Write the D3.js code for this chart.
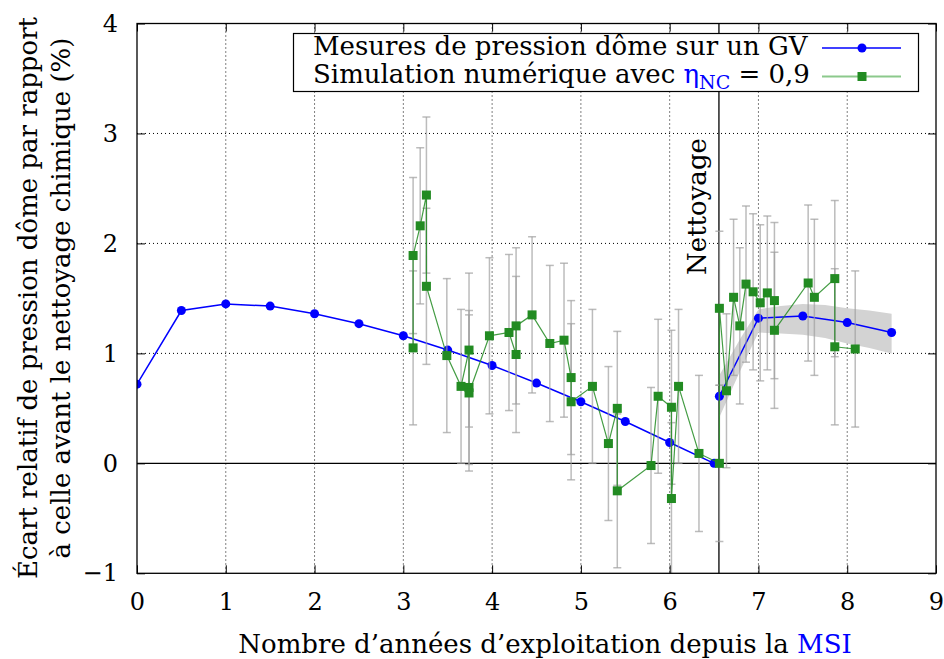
<!DOCTYPE html>
<html>
<head>
<meta charset="utf-8">
<script src="https://cdn.jsdelivr.net/npm/d3@7"></script>
<style>
    body { margin: 0; background: #fff; }
    svg text { font-family: "DejaVu Serif", serif; }
</style>
</head>
<body>
<div class="chart"></div>
<script>

// Mesures de pression dôme sur un GV
var mesureYears  = [0, 0.5, 1, 1.5, 2, 2.5, 3, 3.5, 4, 4.5, 5, 5.5, 6, 6.5, 6.56, 7, 7.5, 8, 8.5];
var mesureValues = [0.72, 1.39, 1.45, 1.43, 1.36, 1.27, 1.16, 1.03, 0.89, 0.73, 0.56, 0.38, 0.19, 0.00, 0.61, 1.32, 1.34, 1.28, 1.19];

// Simulation numérique (eta_NC = 0,9), dans l'ordre du tracé
var simYears  = [3.11, 3.11, 3.19, 3.26, 3.26, 3.49, 3.65, 3.74, 3.74, 3.74, 3.97, 4.19, 4.27, 4.27, 4.45,
                 4.65, 4.81, 4.89, 4.89, 5.13, 5.31, 5.41, 5.41, 5.79, 5.87, 6.02, 6.02, 6.10, 6.33, 6.56,
                 6.56, 6.64, 6.72, 6.79, 6.86, 6.94, 7.02, 7.10, 7.18, 7.18, 7.56, 7.63, 7.86, 7.86, 8.09];
var simValues = [1.05, 1.89, 2.16, 2.44, 1.61, 0.98, 0.70, 1.03, 0.69, 0.64, 1.16, 1.19, 0.99, 1.25, 1.35,
                 1.09, 1.12, 0.78, 0.56, 0.70, 0.18, 0.50, -0.25, -0.02, 0.61, 0.51, -0.32, 0.70, 0.09, 0.00,
                 1.41, 0.66, 1.51, 1.25, 1.63, 1.56, 1.46, 1.55, 1.48, 1.21, 1.64, 1.51, 1.68, 1.06, 1.04];
var simErrors = [0.70, 0.71, 0.71, 0.71, 0.71, 0.70, 0.70, 0.70, 0.70, 0.71, 0.71, 0.71, 0.71, 0.71, 0.71,
                 0.71, 0.70, 0.70, 0.71, 0.70, 0.70, 0.70, 0.70, 0.71, 0.70, 0.70, 0.69, 0.70, 0.71, 0.71,
                 0.70, 0.70, 0.71, 0.71, 0.71, 0.71, 0.71, 0.70, 0.71, 0.71, 0.71, 0.71, 0.71, 0.71, 0.71];

// Bande grise autour des mesures après nettoyage
var bandYears = [6.56, 6.8, 7.0, 7.25, 7.5, 7.75, 8.0, 8.25, 8.5];
var bandLow   = [0.42, 0.85, 1.19, 1.18, 1.17, 1.14, 1.09, 1.05, 1.00];
var bandHigh  = [0.80, 1.14, 1.40, 1.43, 1.45, 1.44, 1.41, 1.39, 1.36];

var cleaningYear = 6.555;
var xTicks = [0, 1, 2, 3, 4, 5, 6, 7, 8, 9];
var yTicks = [-1, 0, 1, 2, 3, 4];


/*
 * PressureChart - Object constructor function
 */
PressureChart = function(_parentElement){
    this.parentElement = _parentElement;

    this.mesures = mesureYears.map(function(d, i) { return { x: d, y: mesureValues[i] }; });
    this.sim = simYears.map(function(d, i) { return { x: d, y: simValues[i], e: simErrors[i] }; });
    this.band = bandYears.map(function(d, i) { return { x: d, lo: bandLow[i], hi: bandHigh[i] }; });

    this.initVis();
}


PressureChart.prototype.initVis = function(){
    var vis = this;

    vis.margin = { top: 23.5, right: 8, bottom: 85.7, left: 137 };
    vis.width = 944 - vis.margin.left - vis.margin.right;
    vis.height = 659 - vis.margin.top - vis.margin.bottom;

    vis.root = d3.select("." + vis.parentElement).append("svg")
        .attr("width", 944)
        .attr("height", 659);

    vis.svg = vis.root.append("g")
        .attr("transform", "translate(" + vis.margin.left + "," + vis.margin.top + ")");

    vis.x = d3.scaleLinear().domain([0, 9]).range([0, vis.width]);
    vis.y = d3.scaleLinear().domain([-1, 4]).range([vis.height, 0]);

    vis.svg.append("clipPath").attr("id", "plot-clip")
        .append("rect")
        .attr("width", vis.width)
        .attr("height", vis.height);

    vis.updateVis();
}


PressureChart.prototype.updateVis = function(){
    var vis = this;
    var fontSize = 26;
    var tickFont = 24;

    // grid (dotted)
    vis.svg.append("g").selectAll("line")
        .data(xTicks.slice(1, -1))
        .enter().append("line")
        .attr("x1", function(d) { return vis.x(d); })
        .attr("x2", function(d) { return vis.x(d); })
        .attr("y1", 0)
        .attr("y2", vis.height)
        .attr("stroke", "#000")
        .attr("stroke-width", 1)
        .attr("stroke-dasharray", "1,3");

    vis.svg.append("g").selectAll("line")
        .data([1, 2, 3])
        .enter().append("line")
        .attr("x1", 0)
        .attr("x2", vis.width)
        .attr("y1", function(d) { return vis.y(d); })
        .attr("y2", function(d) { return vis.y(d); })
        .attr("stroke", "#000")
        .attr("stroke-width", 1)
        .attr("stroke-dasharray", "1,3");

    // zero line
    vis.svg.append("line")
        .attr("x1", 0).attr("x2", vis.width)
        .attr("y1", vis.y(0)).attr("y2", vis.y(0))
        .attr("stroke", "#000")
        .attr("stroke-width", 1.3);

    // cleaning line
    vis.svg.append("line")
        .attr("x1", vis.x(cleaningYear)).attr("x2", vis.x(cleaningYear))
        .attr("y1", 0).attr("y2", vis.height)
        .attr("stroke", "#000")
        .attr("stroke-width", 1.3);

    vis.svg.append("text")
        .attr("transform", "translate(" + (vis.x(cleaningYear) - 13) + "," + (275 - vis.margin.top) + ") rotate(-90)")
        .attr("font-size", fontSize)
        .attr("fill", "#000")
        .text("Nettoyage");

    var plot = vis.svg.append("g").attr("clip-path", "url(#plot-clip)");

    // band
    var area = d3.area()
        .x(function(d) { return vis.x(d.x); })
        .y0(function(d) { return vis.y(d.lo); })
        .y1(function(d) { return vis.y(d.hi); });

    plot.append("path")
        .datum(vis.band)
        .attr("d", area)
        .attr("fill", "#d3d3d3");

    // measurements, split at the cleaning date
    var line = d3.line()
        .x(function(d) { return vis.x(d.x); })
        .y(function(d) { return vis.y(d.y); });

    var before = vis.mesures.filter(function(d) { return d.x < cleaningYear; });
    var after = vis.mesures.filter(function(d) { return d.x >= cleaningYear; });

    plot.selectAll(".mesure-line")
        .data([before, after])
        .enter().append("path")
        .attr("class", "mesure-line")
        .attr("d", line)
        .attr("fill", "none")
        .attr("stroke", "#0000ff")
        .attr("stroke-width", 1.5);

    plot.selectAll(".mesure-dot")
        .data(vis.mesures)
        .enter().append("circle")
        .attr("class", "mesure-dot")
        .attr("cx", function(d) { return vis.x(d.x); })
        .attr("cy", function(d) { return vis.y(d.y); })
        .attr("r", 4.5)
        .attr("fill", "#0000ff");

    // error bars
    var bars = plot.selectAll(".err")
        .data(vis.sim)
        .enter().append("g")
        .attr("class", "err")
        .attr("stroke", "#a0a0a0")
        .attr("stroke-opacity", 0.7)
        .attr("stroke-width", 1.5);

    bars.append("line")
        .attr("x1", function(d) { return vis.x(d.x); })
        .attr("x2", function(d) { return vis.x(d.x); })
        .attr("y1", function(d) { return vis.y(d.y - d.e); })
        .attr("y2", function(d) { return vis.y(d.y + d.e); });

    bars.selectAll(".cap")
        .data(function(d) { return [{ x: d.x, y: d.y - d.e }, { x: d.x, y: d.y + d.e }]; })
        .enter().append("line")
        .attr("x1", function(d) { return vis.x(d.x) - 4; })
        .attr("x2", function(d) { return vis.x(d.x) + 4; })
        .attr("y1", function(d) { return vis.y(d.y); })
        .attr("y2", function(d) { return vis.y(d.y); });

    // simulation
    plot.append("path")
        .datum(vis.sim)
        .attr("d", line)
        .attr("fill", "none")
        .attr("stroke", "#228b22")
        .attr("stroke-opacity", 0.85)
        .attr("stroke-width", 1.2);

    plot.selectAll(".sim-dot")
        .data(vis.sim)
        .enter().append("rect")
        .attr("class", "sim-dot")
        .attr("x", function(d) { return vis.x(d.x) - 4.5; })
        .attr("y", function(d) { return vis.y(d.y) - 4.5; })
        .attr("width", 9)
        .attr("height", 9)
        .attr("fill", "#228b22");

    // axes (ticks inward on all four sides)
    vis.xAxis = d3.axisBottom(vis.x).tickValues(xTicks).tickSize(-8).tickSizeOuter(0)
        .tickPadding(20).tickFormat(d3.format("d"));
    vis.yAxis = d3.axisLeft(vis.y).tickValues(yTicks).tickSize(-8).tickSizeOuter(0)
        .tickPadding(19).tickFormat(d3.format("d"));

    var xg = vis.svg.append("g")
        .attr("transform", "translate(0," + vis.height + ")")
        .call(vis.xAxis);
    var yg = vis.svg.append("g").call(vis.yAxis);

    vis.svg.append("g")
        .call(d3.axisTop(vis.x).tickValues(xTicks).tickSize(-8).tickSizeOuter(0).tickFormat(""));
    vis.svg.append("g")
        .attr("transform", "translate(" + vis.width + ",0)")
        .call(d3.axisRight(vis.y).tickValues(yTicks).tickSize(-8).tickSizeOuter(0).tickFormat(""));

    vis.svg.selectAll(".domain").remove();
    vis.svg.selectAll(".tick line").attr("stroke", "#000");
    [xg, yg].forEach(function(g) {
        g.attr("font-family", null).attr("font-size", tickFont);
        g.selectAll("text").attr("fill", "#000");
    });

    vis.svg.append("rect")
        .attr("width", vis.width)
        .attr("height", vis.height)
        .attr("fill", "none")
        .attr("stroke", "#000")
        .attr("stroke-width", 1.3);

    // legend
    var lg = vis.root.append("g");
    lg.append("rect")
        .attr("x", 293.5).attr("y", 33.5)
        .attr("width", 625).attr("height", 58)
        .attr("fill", "#fff")
        .attr("stroke", "#000")
        .attr("stroke-width", 1.2);

    lg.append("text")
        .attr("x", 313).attr("y", 55)
        .attr("font-size", fontSize)
        .text("Mesures de pression dôme sur un GV");

    var t2 = lg.append("text")
        .attr("x", 313).attr("y", 83)
        .attr("font-size", fontSize);
    t2.append("tspan").text("Simulation numérique avec ");
    t2.append("tspan").attr("fill", "#0000ff").text("η");
    t2.append("tspan").attr("fill", "#0000ff").attr("font-size", 19).attr("dy", 6).text("NC");
    t2.append("tspan").attr("dy", -6).text(" = 0,9");

    lg.append("line")
        .attr("x1", 822).attr("x2", 901).attr("y1", 48).attr("y2", 48)
        .attr("stroke", "#0000ff").attr("stroke-width", 1.5);
    lg.append("circle")
        .attr("cx", 862).attr("cy", 48).attr("r", 4.5)
        .attr("fill", "#0000ff");

    lg.append("line")
        .attr("x1", 822).attr("x2", 901).attr("y1", 76.5).attr("y2", 76.5)
        .attr("stroke", "#8cc98c").attr("stroke-width", 2);
    lg.append("rect")
        .attr("x", 857.5).attr("y", 72).attr("width", 9).attr("height", 9)
        .attr("fill", "#228b22");

    // axis titles
    var xl = vis.root.append("text")
        .attr("x", 545).attr("y", 653)
        .attr("text-anchor", "middle")
        .attr("font-size", fontSize);
    xl.append("tspan").text("Nombre d’années d’exploitation depuis la ");
    xl.append("tspan").attr("fill", "#0000ff").text("MSI");

    var ylabels = ["Écart relatif de pression dôme par rapport", "à celle avant le nettoyage chimique (%)"];
    vis.root.selectAll(".ylabel")
        .data(ylabels)
        .enter().append("text")
        .attr("class", "ylabel")
        .attr("transform", function(d, i) { return "translate(" + (37 + i * 33) + ",298) rotate(-90)"; })
        .attr("text-anchor", "middle")
        .attr("font-size", fontSize)
        .text(function(d) { return d; });
}

var chart = new PressureChart("chart");

</script>
</body>
</html>
